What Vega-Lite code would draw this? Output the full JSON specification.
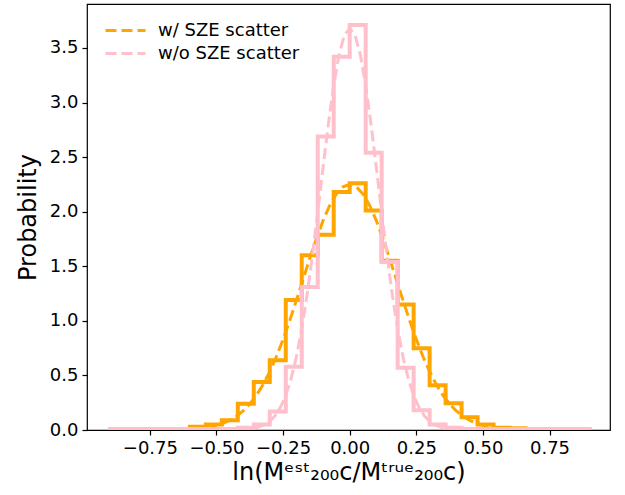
{
  "$schema": "https://vega.github.io/schema/vega-lite/v6.json",
  "autosize": {"type": "none"},
  "width": 523,
  "height": 426,
  "padding": {"left": 87, "top": 4, "right": 15, "bottom": 65},
  "background": "white",
  "config": {
    "font": "DejaVu Sans",
    "view": {"stroke": "black", "strokeWidth": 1.2},
    "axis": {
      "grid": false,
      "domain": false,
      "tickColor": "black",
      "tickSize": 5,
      "tickWidth": 1.2,
      "labelFont": "DejaVu Sans",
      "labelFontSize": 18,
      "labelColor": "black",
      "titleFont": "DejaVu Sans",
      "titleFontWeight": "normal",
      "titleColor": "black",
      "titleFontSize": 24
    },
    "legend": {
      "orient": "none",
      "legendX": 27,
      "legendY": 15,
      "symbolType": "M-2,0H2",
      "symbolStrokeWidth": 3,
      "symbolDash": [11, 5],
      "symbolSize": 400,
      "labelFont": "DejaVu Sans",
      "labelFontSize": 18,
      "labelColor": "black",
      "labelOffset": 21,
      "rowPadding": 2,
      "title": null
    }
  },
  "datasets": {
    "hist": [
      {"series": "w/ SZE scatter", "i": 0, "x": -0.9, "y": 0},
      {"series": "w/ SZE scatter", "i": 1, "x": -0.9, "y": 0},
      {"series": "w/ SZE scatter", "i": 2, "x": -0.84, "y": 0},
      {"series": "w/ SZE scatter", "i": 3, "x": -0.78, "y": 0},
      {"series": "w/ SZE scatter", "i": 4, "x": -0.72, "y": 0},
      {"series": "w/ SZE scatter", "i": 5, "x": -0.66, "y": 0.005},
      {"series": "w/ SZE scatter", "i": 6, "x": -0.6, "y": 0.03},
      {"series": "w/ SZE scatter", "i": 7, "x": -0.54, "y": 0.05},
      {"series": "w/ SZE scatter", "i": 8, "x": -0.48, "y": 0.09},
      {"series": "w/ SZE scatter", "i": 9, "x": -0.42, "y": 0.24},
      {"series": "w/ SZE scatter", "i": 10, "x": -0.36, "y": 0.44},
      {"series": "w/ SZE scatter", "i": 11, "x": -0.3, "y": 0.64},
      {"series": "w/ SZE scatter", "i": 12, "x": -0.24, "y": 1.19},
      {"series": "w/ SZE scatter", "i": 13, "x": -0.18, "y": 1.6},
      {"series": "w/ SZE scatter", "i": 14, "x": -0.12, "y": 1.79},
      {"series": "w/ SZE scatter", "i": 15, "x": -0.06, "y": 2.18},
      {"series": "w/ SZE scatter", "i": 16, "x": 0.0, "y": 2.26},
      {"series": "w/ SZE scatter", "i": 17, "x": 0.06, "y": 2.01},
      {"series": "w/ SZE scatter", "i": 18, "x": 0.12, "y": 1.55},
      {"series": "w/ SZE scatter", "i": 19, "x": 0.18, "y": 1.15},
      {"series": "w/ SZE scatter", "i": 20, "x": 0.24, "y": 0.75},
      {"series": "w/ SZE scatter", "i": 21, "x": 0.3, "y": 0.41},
      {"series": "w/ SZE scatter", "i": 22, "x": 0.36, "y": 0.245},
      {"series": "w/ SZE scatter", "i": 23, "x": 0.42, "y": 0.116},
      {"series": "w/ SZE scatter", "i": 24, "x": 0.48, "y": 0.05},
      {"series": "w/ SZE scatter", "i": 25, "x": 0.54, "y": 0.02},
      {"series": "w/ SZE scatter", "i": 26, "x": 0.6, "y": 0.015},
      {"series": "w/ SZE scatter", "i": 27, "x": 0.66, "y": 0.01},
      {"series": "w/ SZE scatter", "i": 28, "x": 0.72, "y": 0.01},
      {"series": "w/ SZE scatter", "i": 29, "x": 0.78, "y": 0.005},
      {"series": "w/ SZE scatter", "i": 30, "x": 0.84, "y": 0.005},
      {"series": "w/ SZE scatter", "i": 31, "x": 0.9, "y": 0},
      {"series": "w/o SZE scatter", "i": 0, "x": -0.9, "y": 0},
      {"series": "w/o SZE scatter", "i": 1, "x": -0.9, "y": 0.01},
      {"series": "w/o SZE scatter", "i": 2, "x": -0.84, "y": 0.01},
      {"series": "w/o SZE scatter", "i": 3, "x": -0.78, "y": 0.01},
      {"series": "w/o SZE scatter", "i": 4, "x": -0.72, "y": 0.01},
      {"series": "w/o SZE scatter", "i": 5, "x": -0.66, "y": 0.01},
      {"series": "w/o SZE scatter", "i": 6, "x": -0.6, "y": 0.01},
      {"series": "w/o SZE scatter", "i": 7, "x": -0.54, "y": 0.01},
      {"series": "w/o SZE scatter", "i": 8, "x": -0.48, "y": 0.01},
      {"series": "w/o SZE scatter", "i": 9, "x": -0.42, "y": 0.02},
      {"series": "w/o SZE scatter", "i": 10, "x": -0.36, "y": 0.05},
      {"series": "w/o SZE scatter", "i": 11, "x": -0.3, "y": 0.17},
      {"series": "w/o SZE scatter", "i": 12, "x": -0.24, "y": 0.58},
      {"series": "w/o SZE scatter", "i": 13, "x": -0.18, "y": 1.31},
      {"series": "w/o SZE scatter", "i": 14, "x": -0.12, "y": 2.69},
      {"series": "w/o SZE scatter", "i": 15, "x": -0.06, "y": 3.42},
      {"series": "w/o SZE scatter", "i": 16, "x": 0.0, "y": 3.71},
      {"series": "w/o SZE scatter", "i": 17, "x": 0.06, "y": 2.54},
      {"series": "w/o SZE scatter", "i": 18, "x": 0.12, "y": 1.54},
      {"series": "w/o SZE scatter", "i": 19, "x": 0.18, "y": 0.57},
      {"series": "w/o SZE scatter", "i": 20, "x": 0.24, "y": 0.18},
      {"series": "w/o SZE scatter", "i": 21, "x": 0.3, "y": 0.05},
      {"series": "w/o SZE scatter", "i": 22, "x": 0.36, "y": 0.02},
      {"series": "w/o SZE scatter", "i": 23, "x": 0.42, "y": 0.01},
      {"series": "w/o SZE scatter", "i": 24, "x": 0.48, "y": 0.01},
      {"series": "w/o SZE scatter", "i": 25, "x": 0.54, "y": 0.01},
      {"series": "w/o SZE scatter", "i": 26, "x": 0.6, "y": 0.01},
      {"series": "w/o SZE scatter", "i": 27, "x": 0.66, "y": 0.01},
      {"series": "w/o SZE scatter", "i": 28, "x": 0.72, "y": 0.01},
      {"series": "w/o SZE scatter", "i": 29, "x": 0.78, "y": 0.01},
      {"series": "w/o SZE scatter", "i": 30, "x": 0.84, "y": 0.01},
      {"series": "w/o SZE scatter", "i": 31, "x": 0.9, "y": 0}
    ],
    "fit": [
      {"series": "w/ SZE scatter", "x": -0.9, "y": 0},
      {"series": "w/ SZE scatter", "x": -0.7, "y": 0.001},
      {"series": "w/ SZE scatter", "x": -0.6, "y": 0.007},
      {"series": "w/ SZE scatter", "x": -0.55, "y": 0.018},
      {"series": "w/ SZE scatter", "x": -0.5, "y": 0.042},
      {"series": "w/ SZE scatter", "x": -0.475, "y": 0.061},
      {"series": "w/ SZE scatter", "x": -0.45, "y": 0.089},
      {"series": "w/ SZE scatter", "x": -0.425, "y": 0.126},
      {"series": "w/ SZE scatter", "x": -0.4, "y": 0.175},
      {"series": "w/ SZE scatter", "x": -0.375, "y": 0.238},
      {"series": "w/ SZE scatter", "x": -0.35, "y": 0.318},
      {"series": "w/ SZE scatter", "x": -0.325, "y": 0.417},
      {"series": "w/ SZE scatter", "x": -0.3, "y": 0.535},
      {"series": "w/ SZE scatter", "x": -0.275, "y": 0.673},
      {"series": "w/ SZE scatter", "x": -0.25, "y": 0.83},
      {"series": "w/ SZE scatter", "x": -0.225, "y": 1.003},
      {"series": "w/ SZE scatter", "x": -0.2, "y": 1.188},
      {"series": "w/ SZE scatter", "x": -0.175, "y": 1.38},
      {"series": "w/ SZE scatter", "x": -0.15, "y": 1.571},
      {"series": "w/ SZE scatter", "x": -0.125, "y": 1.753},
      {"series": "w/ SZE scatter", "x": -0.1, "y": 1.918},
      {"series": "w/ SZE scatter", "x": -0.075, "y": 2.057},
      {"series": "w/ SZE scatter", "x": -0.05, "y": 2.162},
      {"series": "w/ SZE scatter", "x": -0.025, "y": 2.228},
      {"series": "w/ SZE scatter", "x": 0.0, "y": 2.25},
      {"series": "w/ SZE scatter", "x": 0.025, "y": 2.228},
      {"series": "w/ SZE scatter", "x": 0.05, "y": 2.162},
      {"series": "w/ SZE scatter", "x": 0.075, "y": 2.057},
      {"series": "w/ SZE scatter", "x": 0.1, "y": 1.918},
      {"series": "w/ SZE scatter", "x": 0.125, "y": 1.753},
      {"series": "w/ SZE scatter", "x": 0.15, "y": 1.571},
      {"series": "w/ SZE scatter", "x": 0.175, "y": 1.38},
      {"series": "w/ SZE scatter", "x": 0.2, "y": 1.188},
      {"series": "w/ SZE scatter", "x": 0.225, "y": 1.003},
      {"series": "w/ SZE scatter", "x": 0.25, "y": 0.83},
      {"series": "w/ SZE scatter", "x": 0.275, "y": 0.673},
      {"series": "w/ SZE scatter", "x": 0.3, "y": 0.535},
      {"series": "w/ SZE scatter", "x": 0.325, "y": 0.417},
      {"series": "w/ SZE scatter", "x": 0.35, "y": 0.318},
      {"series": "w/ SZE scatter", "x": 0.375, "y": 0.238},
      {"series": "w/ SZE scatter", "x": 0.4, "y": 0.175},
      {"series": "w/ SZE scatter", "x": 0.425, "y": 0.126},
      {"series": "w/ SZE scatter", "x": 0.45, "y": 0.089},
      {"series": "w/ SZE scatter", "x": 0.475, "y": 0.061},
      {"series": "w/ SZE scatter", "x": 0.5, "y": 0.042},
      {"series": "w/ SZE scatter", "x": 0.55, "y": 0.018},
      {"series": "w/ SZE scatter", "x": 0.6, "y": 0.007},
      {"series": "w/ SZE scatter", "x": 0.7, "y": 0.001},
      {"series": "w/ SZE scatter", "x": 0.9, "y": 0},
      {"series": "w/o SZE scatter", "x": -0.9, "y": 0},
      {"series": "w/o SZE scatter", "x": -0.5, "y": 0},
      {"series": "w/o SZE scatter", "x": -0.4, "y": 0.004},
      {"series": "w/o SZE scatter", "x": -0.35, "y": 0.02},
      {"series": "w/o SZE scatter", "x": -0.32, "y": 0.047},
      {"series": "w/o SZE scatter", "x": -0.3, "y": 0.08},
      {"series": "w/o SZE scatter", "x": -0.28, "y": 0.131},
      {"series": "w/o SZE scatter", "x": -0.26, "y": 0.207},
      {"series": "w/o SZE scatter", "x": -0.24, "y": 0.317},
      {"series": "w/o SZE scatter", "x": -0.22, "y": 0.469},
      {"series": "w/o SZE scatter", "x": -0.2, "y": 0.671},
      {"series": "w/o SZE scatter", "x": -0.18, "y": 0.927},
      {"series": "w/o SZE scatter", "x": -0.16, "y": 1.238},
      {"series": "w/o SZE scatter", "x": -0.14, "y": 1.598},
      {"series": "w/o SZE scatter", "x": -0.12, "y": 1.994},
      {"series": "w/o SZE scatter", "x": -0.1, "y": 2.405},
      {"series": "w/o SZE scatter", "x": -0.08, "y": 2.803},
      {"series": "w/o SZE scatter", "x": -0.06, "y": 3.157},
      {"series": "w/o SZE scatter", "x": -0.04, "y": 3.438},
      {"series": "w/o SZE scatter", "x": -0.02, "y": 3.618},
      {"series": "w/o SZE scatter", "x": 0.0, "y": 3.68},
      {"series": "w/o SZE scatter", "x": 0.02, "y": 3.618},
      {"series": "w/o SZE scatter", "x": 0.04, "y": 3.438},
      {"series": "w/o SZE scatter", "x": 0.06, "y": 3.157},
      {"series": "w/o SZE scatter", "x": 0.08, "y": 2.803},
      {"series": "w/o SZE scatter", "x": 0.1, "y": 2.405},
      {"series": "w/o SZE scatter", "x": 0.12, "y": 1.994},
      {"series": "w/o SZE scatter", "x": 0.14, "y": 1.598},
      {"series": "w/o SZE scatter", "x": 0.16, "y": 1.238},
      {"series": "w/o SZE scatter", "x": 0.18, "y": 0.927},
      {"series": "w/o SZE scatter", "x": 0.2, "y": 0.671},
      {"series": "w/o SZE scatter", "x": 0.22, "y": 0.469},
      {"series": "w/o SZE scatter", "x": 0.24, "y": 0.317},
      {"series": "w/o SZE scatter", "x": 0.26, "y": 0.207},
      {"series": "w/o SZE scatter", "x": 0.28, "y": 0.131},
      {"series": "w/o SZE scatter", "x": 0.3, "y": 0.08},
      {"series": "w/o SZE scatter", "x": 0.32, "y": 0.047},
      {"series": "w/o SZE scatter", "x": 0.35, "y": 0.02},
      {"series": "w/o SZE scatter", "x": 0.4, "y": 0.004},
      {"series": "w/o SZE scatter", "x": 0.5, "y": 0},
      {"series": "w/o SZE scatter", "x": 0.9, "y": 0}
    ]
  },
  "encoding": {
    "x": {
      "field": "x",
      "type": "quantitative",
      "scale": {"domain": [-0.986, 0.977], "nice": false, "zero": false},
      "axis": {
        "values": [-0.75, -0.5, -0.25, 0, 0.25, 0.5, 0.75],
        "format": ".2f",
        "labelPadding": 4,
        "title": "ln(Mᵉˢᵗ₂₀₀c/Mᵗʳᵘᵉ₂₀₀c)",
        "titlePadding": 3
      }
    },
    "y": {
      "field": "y",
      "type": "quantitative",
      "scale": {"domain": [0, 3.903], "nice": false},
      "axis": {
        "values": [0, 0.5, 1, 1.5, 2, 2.5, 3, 3.5],
        "format": ".1f",
        "labelPadding": 4,
        "title": "Probability",
        "titlePadding": 9
      }
    }
  },
  "layer": [
    {
      "data": {"name": "hist"},
      "transform": [{"filter": "datum.series === 'w/ SZE scatter'"}],
      "mark": {"type": "line", "interpolate": "step-after", "color": "#FFA500", "strokeWidth": 4, "clip": true},
      "encoding": {"order": {"field": "i", "type": "quantitative"}}
    },
    {
      "data": {"name": "fit"},
      "transform": [{"filter": "datum.series === 'w/ SZE scatter'"}],
      "mark": {"type": "line", "strokeDash": [11, 5], "strokeWidth": 3, "clip": true},
      "encoding": {
        "color": {
          "field": "series",
          "type": "nominal",
          "scale": {"domain": ["w/ SZE scatter", "w/o SZE scatter"], "range": ["#FFA500", "#FFC0CB"]}
        }
      }
    },
    {
      "data": {"name": "hist"},
      "transform": [{"filter": "datum.series === 'w/o SZE scatter'"}],
      "mark": {"type": "line", "interpolate": "step-after", "color": "#FFC0CB", "strokeWidth": 4, "clip": true},
      "encoding": {"order": {"field": "i", "type": "quantitative"}}
    },
    {
      "data": {"name": "fit"},
      "transform": [{"filter": "datum.series === 'w/o SZE scatter'"}],
      "mark": {"type": "line", "strokeDash": [11, 5], "strokeWidth": 3, "clip": true},
      "encoding": {
        "color": {
          "field": "series",
          "type": "nominal",
          "scale": {"domain": ["w/ SZE scatter", "w/o SZE scatter"], "range": ["#FFA500", "#FFC0CB"]}
        }
      }
    }
  ]
}
